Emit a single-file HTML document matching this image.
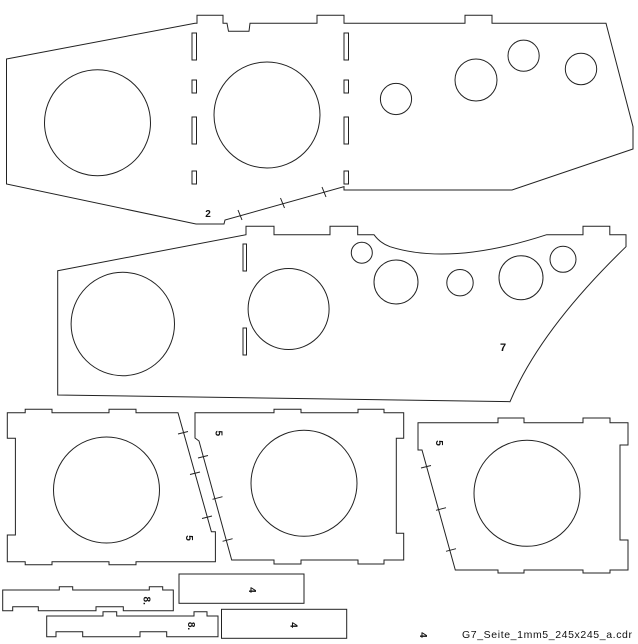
<!DOCTYPE html>
<html><head><meta charset="utf-8"><style>
html,body{margin:0;padding:0;background:#fff;}
svg{display:block;}
text{font-family:"Liberation Sans",sans-serif;fill:#111;}
</style></head><body>
<svg width="638" height="644" viewBox="0 0 638 644" xmlns="http://www.w3.org/2000/svg">
<g fill="none" stroke="#222" stroke-width="1">
<!-- Piece 2 -->
<path d="M6.5,59 L195,23.3 L197,23.3 L197,15.3 L223,15.3 L223,23.3 L227,23.3 L228.5,31.3 L249,31.3 L250,23.3 L317,23.3 L317,15.3 L344,15.3 L344,23.3 L465,23.3 L465,15.3 L492,15.3 L492,23.3 L606,23.3 L633,126.7 L633,149 L512,190 L344,190 L344,186.7 L225,220 L224,224 L196,224 L6.5,184 Z"/>
<rect x="192" y="33" width="4.5" height="27"/><rect x="192" y="80" width="4.5" height="13"/><rect x="192" y="117" width="4.5" height="27"/><rect x="192" y="171" width="4.5" height="13"/>
<rect x="344" y="33" width="4.5" height="27"/><rect x="344" y="80" width="4.5" height="13"/><rect x="344" y="117" width="4.5" height="27"/><rect x="344" y="171" width="4.5" height="13"/>
<circle cx="97.5" cy="122.7" r="53"/><circle cx="267" cy="115" r="53"/>
<circle cx="396" cy="99" r="15.6"/><circle cx="476" cy="80" r="21"/><circle cx="523.6" cy="55.7" r="15.6"/><circle cx="581" cy="69" r="15.7"/>
<path d="M238,210 L242,220 M280.5,198 L284.5,208 M322,187 L326,197"/>
<!-- Piece 7 -->
<path d="M57.7,270.7 L246,234.7 L246,226.3 L274,226.3 L274,234.7 L330,234.7 L330,226.3 L357.7,226.3 L357.7,234.7 L374,234.7 Q380,243 390,246.7 Q451,266 546.7,234.7 L583,234.7 L583,226.3 L609.8,226.3 L609.8,234.7 L626,234.7 L626,246.7 Q540,330 510,401.7 L57.7,395 Z"/>
<rect x="243" y="244" width="3.5" height="27"/><rect x="243" y="328" width="3.5" height="27"/>
<circle cx="122.8" cy="324" r="51.7"/><circle cx="288.6" cy="309" r="40.5"/>
<circle cx="361.8" cy="252.7" r="10.5"/><circle cx="396" cy="282" r="22"/><circle cx="460" cy="282.7" r="13.2"/><circle cx="521" cy="277.7" r="22"/><circle cx="563" cy="259.3" r="13"/>
<!-- Piece A -->
<path d="M7.3,412.7 L25.2,412.7 L25.2,409.3 L52,409.3 L52,412.7 L109,412.7 L109,409.3 L136,409.3 L136,412.7 L178,412.7 L211.4,531.7 L215.4,531.7 L215.4,561.7 L136,561.7 L136,564.7 L109,564.7 L109,561.7 L52,561.7 L52,564.7 L25.2,564.7 L25.2,561.7 L7.3,561.7 L7.3,535 L15.4,535 L15.4,438.3 L7.3,438.3 Z"/>
<circle cx="106.5" cy="490" r="53"/>
<path d="M178,434 L188,431.5 M190,474.5 L200,472 M202,518.5 L212,516"/>
<!-- Piece B -->
<path d="M195,412.7 L274,412.7 L274,409.3 L301,409.3 L301,412.7 L358,412.7 L358,409.3 L384,409.3 L384,412.7 L403.7,412.7 L403.7,438.3 L396.3,438.3 L396.3,533.3 L403.7,533.3 L403.7,560 L384,560 L384,564 L358,564 L358,560 L301,560 L301,564 L274,564 L274,560 L231.7,560 L199,441 L195,438 Z"/>
<circle cx="304" cy="483.3" r="53"/>
<path d="M198,458 L208,455.5 M212.5,499.3 L222.5,496.7 M222.6,541.3 L232.6,538.7"/>
<!-- Piece C -->
<path d="M418,422.7 L498,422.7 L498,418 L524,418 L524,422.7 L583,422.7 L583,418 L610,418 L610,422.7 L628,422.7 L628,445 L620,445 L620,540 L628,540 L628,570 L610,570 L610,573 L583,573 L583,570 L524,570 L524,573 L498,573 L498,570 L455.3,570 L422,450 L418,450 Z"/>
<circle cx="527" cy="493.3" r="53"/>
<path d="M421,468 L431,465.5 M436,510.3 L446,507.7 M446,551.3 L456,548.7"/>
<!-- Strip 1 -->
<path d="M2.7,590 L59.3,590 L59.3,586.7 L72.7,586.7 L72.7,590 L149.3,590 L149.3,586.7 L162.7,586.7 L162.7,590 L173.3,590 L173.3,610.7 L123.3,610.7 L123.3,606.7 L96,606.7 L96,610.7 L38.3,610.7 L38.3,606.7 L12.7,606.7 L12.7,610.7 L2.7,610.7 Z"/>
<!-- Strip 2 -->
<path d="M46.7,616 L103,616 L103,611.7 L116.7,611.7 L116.7,616 L194,616 L194,611.7 L207,611.7 L207,616 L218,616 L218,636.7 L166.7,636.7 L166.7,631.7 L140,631.7 L140,636.7 L82.7,636.7 L82.7,631.7 L56,631.7 L56,636.7 L46.7,636.7 Z"/>
<!-- Rects -->
<rect x="179" y="574" width="125" height="29.3"/>
<rect x="221.5" y="609.3" width="125.2" height="29"/>
</g>
<g font-size="10" font-weight="bold">
<text x="208" y="217" text-anchor="middle">2</text>
<text x="503" y="351" text-anchor="middle" font-size="11">7</text>
<text transform="translate(189,538) rotate(90)" text-anchor="middle" dy="3">5</text>
<text transform="translate(218.7,433.3) rotate(90)" text-anchor="middle" dy="3">5</text>
<text transform="translate(439,443) rotate(90)" text-anchor="middle" dy="3">5</text>
<text transform="translate(252,590) rotate(90)" text-anchor="middle" dy="3">4</text>
<text transform="translate(293.5,625) rotate(90)" text-anchor="middle" dy="3">4</text>
<text transform="translate(423,635) rotate(90)" text-anchor="middle" dy="3">4</text>
<text transform="translate(146.7,600.7) rotate(90)" text-anchor="middle" dy="3">8.</text>
<text transform="translate(191,626) rotate(90)" text-anchor="middle" dy="3">8.</text>
</g>
<text x="462" y="638" font-size="10.5" textLength="170">G7_Seite_1mm5_245x245_a.cdr</text>
</svg>
</body></html>
